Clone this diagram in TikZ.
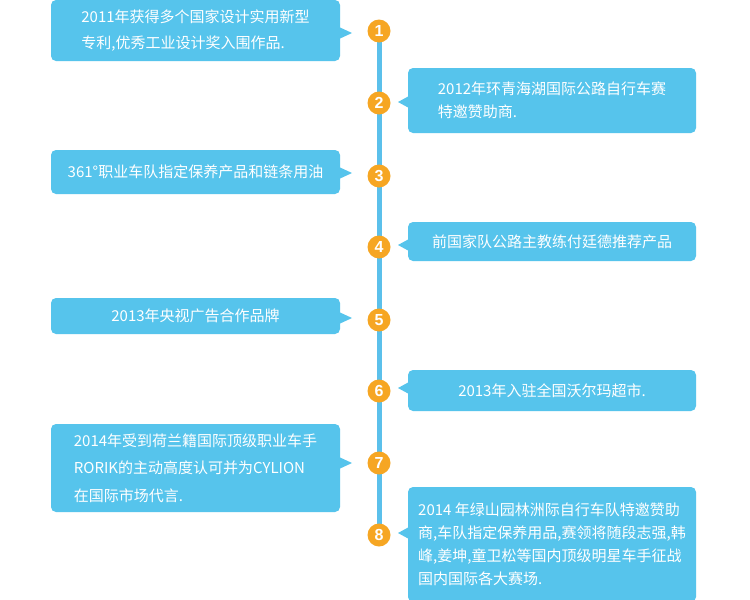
\documentclass[tikz,border=0pt]{standalone}
\usepackage{fontspec}
\usetikzlibrary{backgrounds}
\setmainfont{Noto Sans CJK SC}
\newfontfamily\numfont{Liberation Sans}
\definecolor{boxblue}{HTML}{56C4EC}
\definecolor{lineblue}{HTML}{5BC0EB}
\definecolor{dotorange}{HTML}{F6A623}
\tikzset{
  evbox/.style={fill=boxblue, rounded corners=5pt, text=white, align=left, inner sep=0pt,
    font=\fontsize{15}{26}\selectfont},
  leftbox/.style={evbox, minimum width=289pt},
  rightbox/.style={evbox, minimum width=288pt},
  dot/.style={circle, fill=dotorange, minimum size=23pt, inner sep=0pt, text=white,
    font=\numfont\bfseries\fontsize{16}{16}\selectfont},
  tip/.style={fill=boxblue},
  timeline/.style={draw=lineblue, line width=5pt}
}
\begin{document}
\begin{tikzpicture}[x=1pt,y=-1pt]
\useasboundingbox (0,0) rectangle (750,600);
\clip (0,0) rectangle (750,600);

% dots
\node[dot] (c1) at (379,31) {1};
\node[dot] (c2) at (379,103) {2};
\node[dot] (c3) at (379,176) {3};
\node[dot] (c4) at (379,247) {4};
\node[dot] (c5) at (379,320) {5};
\node[dot] (c6) at (379,391) {6};
\node[dot] (c7) at (379,463) {7};
\node[dot] (c8) at (379,535) {8};
\begin{pgfonlayer}{background}
\fill[white] (0,0) rectangle (750,600);
\draw[timeline] (c1.center) -- (c8.center);
\end{pgfonlayer}

% boxes
\node[leftbox, minimum height=61pt] (b1) at (195.5,30.5)
  {2011年获得多个国家设计实用新型\\专利,优秀工业设计奖入围作品.};
\node[rightbox, minimum height=65pt, font=\fontsize{15}{23}\selectfont] (b2) at (552,100.5)
  {2012年环青海湖国际公路自行车赛\\特邀赞助商.};
\node[leftbox, minimum height=44pt] (b3) at (195.5,172)
  {361°职业车队指定保养产品和链条用油};
\node[rightbox, minimum height=39pt] (b4) at (552,241.5)
  {前国家队公路主教练付廷德推荐产品};
\node[leftbox, minimum height=36pt] (b5) at (195.5,316)
  {2013年央视广告合作品牌};
\node[rightbox, minimum height=41pt] (b6) at (552,390.5)
  {2013年入驻全国沃尔玛超市.};
\node[leftbox, minimum height=88pt, font=\fontsize{15}{27.5}\selectfont] (b7) at (195.5,468)
  {2014年受到荷兰籍国际顶级职业车手\\RORIK的主动高度认可并为CYLION\\在国际市场代言.};
\node[rightbox, minimum height=115pt, font=\fontsize{15}{23}\selectfont] (b8) at (552,544.5)
  {2014 年绿山园林洲际自行车队特邀赞助\\商,车队指定保养用品,赛领将随段志强,韩\\峰,姜坤,童卫松等国内顶级明星车手征战\\国内国际各大赛场.};

% pointers
\fill[tip] (339,27) -- (352,33) -- (339,39) -- cycle;
\fill[tip] (339,167) -- (352,173) -- (339,179) -- cycle;
\fill[tip] (339,312) -- (352,318) -- (339,324) -- cycle;
\fill[tip] (339,457) -- (352,463) -- (339,469) -- cycle;
\fill[tip] (409,96) -- (398,102) -- (409,108) -- cycle;
\fill[tip] (409,239) -- (398,245) -- (409,251) -- cycle;
\fill[tip] (409,382) -- (398,388) -- (409,394) -- cycle;
\fill[tip] (409,527) -- (398,533) -- (409,539) -- cycle;
\end{tikzpicture}
\end{document}
